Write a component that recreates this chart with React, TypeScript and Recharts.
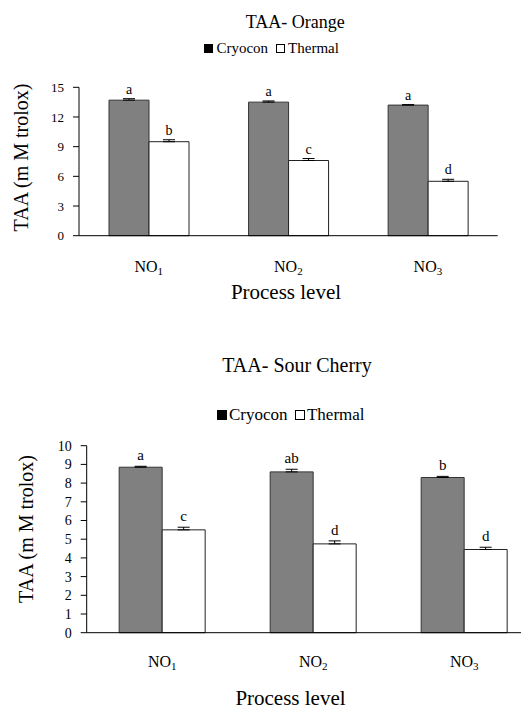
import React from "react";
import {
  BarChart,
  Bar,
  XAxis,
  YAxis,
  ErrorBar,
  LabelList,
  Legend,
} from "recharts";

const levels = ["1", "2", "3"];
const seriesNames = ["Cryocon", "Thermal"];

// TAA - Orange
const orangeCryocon = [13.7, 13.5, 13.2];
const orangeCryoconErr = [0.15, 0.12, 0.05];
const orangeThermal = [9.5, 7.6, 5.5];
const orangeThermalErr = [0.2, 0.2, 0.2];
const orangeCryoconLetters = ["a", "a", "a"];
const orangeThermalLetters = ["b", "c", "d"];
const orangeTicks = [0, 3, 6, 9, 12, 15];

// TAA - Sour Cherry
const cherryCryocon = [8.85, 8.6, 8.3];
const cherryCryoconErr = [0.05, 0.14, 0.06];
const cherryThermal = [5.5, 4.75, 4.45];
const cherryThermalErr = [0.14, 0.16, 0.12];
const cherryCryoconLetters = ["a", "ab", "b"];
const cherryThermalLetters = ["c", "d", "d"];
const cherryTicks = [0, 1, 2, 3, 4, 5, 6, 7, 8, 9, 10];

const FONT = '"Liberation Serif", "Times New Roman", serif';

function buildRows(cryo, cryoErr, therm, thermErr, cryoLet, thermLet) {
  return levels.map((lv, i) => ({
    level: lv,
    cryocon: cryo[i],
    thermal: therm[i],
    cryoconErr: [0, cryoErr[i]],
    thermalErr: [0, thermErr[i]],
    cryoconLetter: cryoLet[i],
    thermalLetter: thermLet[i],
  }));
}

const orangeRows = buildRows(
  orangeCryocon,
  orangeCryoconErr,
  orangeThermal,
  orangeThermalErr,
  orangeCryoconLetters,
  orangeThermalLetters
);
const cherryRows = buildRows(
  cherryCryocon,
  cherryCryoconErr,
  cherryThermal,
  cherryThermalErr,
  cherryCryoconLetters,
  cherryThermalLetters
);

// letter above the error bar: bar top minus error converted with the bar's own px/unit
const letterLabel =
  (values: number[], errs: number[], fontSize: number, gap: number) =>
  (props: any) => {
    const vb = props.viewBox || {};
    const x = props.x ?? vb.x;
    const y = props.y ?? vb.y;
    const width = props.width ?? vb.width;
    const height = props.height ?? vb.height;
    const i = props.index;
    const pxPerUnit = height / values[i];
    const top = y - errs[i] * pxPerUnit;
    return (
      <text
        x={x + width / 2}
        y={top - gap}
        textAnchor="middle"
        fontSize={fontSize}
        fontFamily={FONT}
        fill="#000"
      >
        {props.value}
      </text>
    );
  };

const CatTick = (props: any) => {
  const { x, y, payload, dy, fontSize } = props;
  return (
    <text
      x={x}
      y={y + dy}
      textAnchor="middle"
      fontSize={fontSize}
      fontFamily={FONT}
      fill="#000"
    >
      <tspan>NO</tspan>
      <tspan fontSize={11} dy={3}>
        {payload.value}
      </tspan>
    </text>
  );
};

const legendContent = (fontSize: number, box: number, innerGap: number, itemGap: number) => () =>
  (
    <div
      style={{
        display: "flex",
        justifyContent: "center",
        alignItems: "baseline",
        fontFamily: FONT,
        fontSize,
        lineHeight: `${fontSize}px`,
        color: "#000",
      }}
    >
      {seriesNames.map((name, i) => (
        <span key={name} style={{ marginLeft: i ? itemGap : 0, whiteSpace: "nowrap" }}>
          <span
            style={{
              display: "inline-block",
              width: box,
              height: box,
              boxSizing: "border-box",
              background: i === 0 ? "#000" : "#fff",
              border: "1px solid #000",
              marginRight: innerGap,
            }}
          />
          {name}
        </span>
      ))}
    </div>
  );

type PanelProps = {
  rows: any[];
  cryo: number[];
  cryoErr: number[];
  therm: number[];
  thermErr: number[];
  ticks: number[];
  width: number;
  height: number;
  margin: { top: number; right: number; left: number; bottom: number };
  yAxisWidth: number;
  tickFont: number;
  letterFont: number;
  letterGap: number;
  catDy: number;
  legendTop: number;
  legendLeft: number;
  legendFont: number;
  legendBox: number;
  legendInner: number;
  legendItemGap: number;
};

function Panel(p: PanelProps) {
  const yMax = p.ticks[p.ticks.length - 1];
  return (
    <BarChart
      width={p.width}
      height={p.height}
      data={p.rows}
      margin={p.margin}
      barCategoryGap="21.5%"
      barGap={0}
    >
      {/* category labels (no line), sits below the edge-tick axis */}
      <XAxis
        xAxisId="axisB"
        dataKey="level"
        type="category"
        axisLine={false}
        tickLine={false}
        tickSize={0}
        tickMargin={0}
        height={60}
        interval={0}
        tick={<CatTick dy={p.catDy} fontSize={16} />}
      />
      {/* axis line with tick marks on category boundaries */}
      <XAxis
        xAxisId="axisA"
        type="number"
        domain={[0, levels.length]}
        ticks={levels.map((_, i) => i).concat(levels.length)}
        tick={false}
        tickSize={6}
        height={6}
        axisLine={{ stroke: "#000" }}
        tickLine={{ stroke: "#000" }}
        allowDataOverflow
      />
      <YAxis
        width={p.yAxisWidth}
        domain={[0, yMax]}
        ticks={p.ticks}
        interval={0}
        tickSize={6}
        tickMargin={9}
        axisLine={{ stroke: "#000" }}
        tickLine={{ stroke: "#000" }}
        tick={{ fill: "#000", fontSize: p.tickFont, fontFamily: FONT }}
      />
      <Legend
        verticalAlign="middle"
        layout="horizontal"
        wrapperStyle={{ top: p.legendTop, left: p.legendLeft, width: 300 }}
        content={legendContent(p.legendFont, p.legendBox, p.legendInner, p.legendItemGap)}
      />
      <Bar
        xAxisId="axisB"
        dataKey="cryocon"
        name={seriesNames[0]}
        fill="#808080"
        stroke="#333"
        strokeWidth={1}
        isAnimationActive={false}
      >
        <ErrorBar
          dataKey="cryoconErr"
          width={6}
          stroke="#000"
          strokeWidth={1}
          isAnimationActive={false}
        />
        <LabelList
          dataKey="cryoconLetter"
          content={letterLabel(p.cryo, p.cryoErr, p.letterFont, p.letterGap)}
        />
      </Bar>
      <Bar
        xAxisId="axisB"
        dataKey="thermal"
        name={seriesNames[1]}
        fill="#ffffff"
        stroke="#222"
        strokeWidth={1}
        isAnimationActive={false}
      >
        <ErrorBar
          dataKey="thermalErr"
          width={6}
          stroke="#000"
          strokeWidth={1}
          isAnimationActive={false}
        />
        <LabelList
          dataKey="thermalLetter"
          content={letterLabel(p.therm, p.thermErr, p.letterFont, p.letterGap)}
        />
      </Bar>
    </BarChart>
  );
}

export default function App() {
  return (
    <div
      style={{
        position: "absolute",
        left: 0,
        top: 0,
        width: 521,
        height: 709,
        overflow: "hidden",
        background: "#fff",
        fontFamily: FONT,
      }}
    >
      <div style={{ position: "absolute", left: 0, top: 0 }}>
        <Panel
          rows={orangeRows}
          cryo={orangeCryocon}
          cryoErr={orangeCryoconErr}
          therm={orangeThermal}
          thermErr={orangeThermalErr}
          ticks={orangeTicks}
          width={521}
          height={305}
          margin={{ top: 87.3, right: 23.3, left: 0, bottom: 3.3 }}
          yAxisWidth={79}
          tickFont={13}
          letterFont={14}
          letterGap={5}
          catDy={30}
          legendTop={41}
          legendLeft={121.7}
          legendFont={15}
          legendBox={9}
          legendInner={3}
          legendItemGap={8}
        />
      </div>
      <div style={{ position: "absolute", left: 0, top: 360 }}>
        <Panel
          rows={cherryRows}
          cryo={cherryCryocon}
          cryoErr={cherryCryoconErr}
          therm={cherryThermal}
          thermErr={cherryThermalErr}
          ticks={cherryTicks}
          width={545}
          height={349}
          margin={{ top: 85.7, right: 5.3, left: 0, bottom: 10.3 }}
          yAxisWidth={86.7}
          tickFont={14}
          letterFont={15}
          letterGap={6}
          catDy={28}
          legendTop={45.8}
          legendLeft={141}
          legendFont={17}
          legendBox={10}
          legendInner={1.5}
          legendItemGap={8}
        />
      </div>
      <svg
        width={521}
        height={709}
        style={{ position: "absolute", left: 0, top: 0, pointerEvents: "none" }}
        fontFamily={FONT}
        fill="#000"
      >
        <text x={295.3} y={27.7} fontSize={18} textAnchor="middle">
          TAA- Orange
        </text>
        <text transform="translate(27.7,157.5) rotate(-90)" fontSize={20} textAnchor="middle">
          TAA (m M trolox)
        </text>
        <text x={286} y={299} fontSize={21} textAnchor="middle">
          Process level
        </text>
        <text x={297} y={372.3} fontSize={20} textAnchor="middle">
          TAA- Sour Cherry
        </text>
        <text transform="translate(32.7,529) rotate(-90)" fontSize={20} textAnchor="middle">
          TAA (m M trolox)
        </text>
        <text x={290.5} y={705} fontSize={21} textAnchor="middle">
          Process level
        </text>
      </svg>
    </div>
  );
}
